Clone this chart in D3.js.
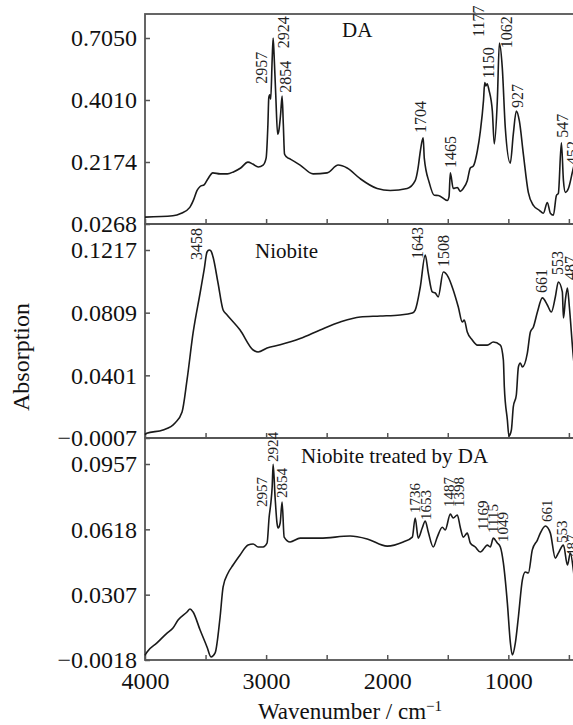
<!DOCTYPE html>
<html>
<head>
<meta charset="utf-8">
<script src="https://cdn.jsdelivr.net/npm/d3@7"></script>
<style>
  body { margin: 0; background: #fff; }
  svg { display: block; font-family: "Liberation Serif", "DejaVu Serif", serif; }
</style>
</head>
<body>
<div id="chart"></div>
<script>
'use strict';

// Spectra: [wavenumber, absorption].
const daSpectrum = [
  [4000,0.048],[3770,0.052],[3700,0.060],[3630,0.078],[3600,0.100],[3570,0.130],[3545,0.142],
  [3510,0.148],[3480,0.166],[3440,0.184],[3380,0.181],[3320,0.181],[3270,0.187],[3210,0.199],
  [3150,0.217],[3110,0.211],[3065,0.202],[3025,0.208],[3000,0.229],[2985,0.330],[2978,0.411],
  [2970,0.426],[2962,0.405],[2950,0.600],[2942,0.705],[2934,0.620],[2920,0.420],[2905,0.300],
  [2895,0.310],[2880,0.360],[2868,0.420],[2858,0.330],[2848,0.241],[2830,0.232],[2800,0.226],
  [2719,0.208],[2612,0.181],[2496,0.184],[2405,0.208],[2331,0.199],[2223,0.166],[2083,0.136],
  [1975,0.130],[1835,0.136],[1769,0.160],[1745,0.200],[1730,0.241],[1712,0.280],[1703,0.289],
  [1694,0.229],[1653,0.154],[1611,0.115],[1578,0.1145],[1504,0.099],[1490,0.110],[1479,0.184],
  [1455,0.136],[1421,0.139],[1397,0.127],[1372,0.136],[1339,0.160],[1314,0.199],[1289,0.205],
  [1256,0.250],[1231,0.309],[1205,0.400],[1195,0.486],[1185,0.470],[1175,0.481],[1160,0.450],
  [1132,0.368],[1116,0.271],[1091,0.398],[1074,0.680],[1050,0.560],[1025,0.318],[984,0.214],
  [959,0.300],[934,0.368],[909,0.339],[876,0.241],[835,0.124],[793,0.084],[744,0.069],[711,0.060],
  [678,0.093],[653,0.060],[628,0.054],[603,0.1145],[587,0.121],[562,0.274],[545,0.160],[529,0.124],
  [504,0.136],[463,0.199],[447,0.220],[420,0.170],[400,0.150]
];

const niobiteSpectrum = [
  [4000,0.0015],[3986,0.0024],[3851,0.0045],[3752,0.0091],[3694,0.0162],[3653,0.0371],
  [3603,0.0677],[3545,0.0937],[3512,0.1087],[3488,0.1204],[3470,0.1217],[3455,0.1210],
  [3438,0.1171],[3397,0.1002],[3355,0.0826],[3322,0.0794],[3215,0.0696],[3107,0.0566],
  [3066,0.0553],[2992,0.0579],[2884,0.0600],[2719,0.0640],[2554,0.0696],[2388,0.0748],
  [2223,0.0781],[2058,0.0787],[1893,0.0794],[1793,0.0807],[1769,0.0826],[1727,0.0976],
  [1686,0.1184],[1661,0.1067],[1628,0.0944],[1603,0.0937],[1579,0.0911],[1537,0.1074],
  [1496,0.1041],[1455,0.0957],[1413,0.0846],[1380,0.0748],[1364,0.0761],[1339,0.0683],
  [1298,0.0631],[1256,0.0598],[1174,0.0598],[1124,0.0618],[1066,0.0598],[1041,0.0501],
  [1033,0.0325],[1008,0.0110],[995,0.0005],[975,0.0045],[959,0.0195],[934,0.0273],[917,0.0455],
  [901,0.0481],[884,0.0455],[843,0.0546],[818,0.0683],[793,0.0716],[760,0.0813],[719,0.0905],
  [678,0.0859],[645,0.0813],[612,0.0911],[587,0.1009],[554,0.0944],[545,0.0774],[529,0.0892],
  [512,0.0970],[496,0.0846],[463,0.0520],[440,0.0370],[400,0.0300]
];

const treatedSpectrum = [
  [4000,0.0005],[3983,0.0022],[3901,0.0067],[3818,0.0116],[3769,0.0141],[3727,0.0181],
  [3653,0.0221],[3628,0.0236],[3603,0.0221],[3545,0.0131],[3488,0.0047],[3455,-0.0003],
  [3421,0.0017],[3380,0.0196],[3355,0.0344],[3314,0.0410],[3273,0.0448],[3215,0.0496],
  [3149,0.0543],[3107,0.0548],[3066,0.0534],[3025,0.0534],[2992,0.0553],[2975,0.0682],
  [2960,0.0760],[2950,0.0838],[2942,0.0955],[2926,0.0786],[2910,0.0650],[2901,0.0625],
  [2884,0.0651],[2868,0.0760],[2851,0.0581],[2802,0.0558],[2719,0.0576],[2554,0.0576],
  [2306,0.0586],[2165,0.0572],[2000,0.0538],[1868,0.0558],[1793,0.0581],[1769,0.0677],
  [1744,0.0576],[1711,0.0625],[1686,0.0661],[1661,0.0605],[1620,0.0534],[1587,0.0581],
  [1545,0.0629],[1521,0.0615],[1479,0.0697],[1455,0.0677],[1421,0.0692],[1397,0.0629],
  [1372,0.0581],[1339,0.0600],[1314,0.0553],[1273,0.0534],[1231,0.0510],[1198,0.0529],
  [1174,0.0543],[1149,0.0534],[1124,0.0576],[1091,0.0553],[1066,0.0534],[1041,0.0458],
  [1008,0.0265],[983,0.0067],[967,0.0007],[942,0.0067],[917,0.0196],[884,0.0377],[860,0.0415],
  [835,0.0410],[802,0.0520],[760,0.0567],[736,0.0600],[694,0.0635],[653,0.0600],[612,0.0481],
  [587,0.0505],[545,0.0543],[512,0.0448],[488,0.0505],[463,0.0424],[440,0.0300],[400,0.0250]
];

// Y tick labels of each panel (bottom to top).
const daTicks = [0.0268, 0.2174, 0.4010, 0.7050];
const niobiteTicks = [-0.0007, 0.0401, 0.0809, 0.1217];
const treatedTicks = [-0.0018, 0.0307, 0.0618, 0.0957];

// Peak labels: [text, wavenumber, absorption] where the rotated label starts.
const daPeaks = [
  ['2957',3041,0.481],['2924',2860,0.655],['2854',2843,0.436],['1704',1727,0.303],
  ['1465',1479,0.199],['1177',1248,0.710],['1150',1165,0.506],['1062',1016,0.655],
  ['927',926,0.377],['547',554,0.289],['452',471,0.208]
];
const niobitePeaks = [
  ['3458',3579,0.1152],['1643',1752,0.1158],['1508',1537,0.1106],
  ['661',727,0.0937],['553',595,0.1054],['487',488,0.1022]
];
const treatedPeaks = [
  ['2957',3033,0.0734],['2924',2942,0.0967],['2854',2868,0.0780],['1736',1769,0.0703],
  ['1653',1686,0.0666],['1487',1496,0.0734],['1398',1413,0.0734],['1169',1215,0.0615],
  ['1115',1132,0.0601],['1049',1050,0.0558],['661',686,0.0656],['553',562,0.0553],
  ['487',479,0.0486]
];

const panelTitles = ['DA', 'Niobite', 'Niobite treated by DA'];
const xTicks = [4000, 3500, 3000, 2500, 2000, 1500, 1000, 500];
const xDomain = [4000, 400];

const width = 573;
const height = 725;
const left = 145;
const right = 581;

const panels = [
  { top: 14,  bottom: 224, head: 24, data: daSpectrum,      ticks: daTicks,      peaks: daPeaks,      peakSize: 16,
    title: panelTitles[0], titleX: 342, titleY: 37 },
  { top: 224, bottom: 438, head: 26, data: niobiteSpectrum, ticks: niobiteTicks, peaks: niobitePeaks, peakSize: 16,
    title: panelTitles[1], titleX: 255, titleY: 258 },
  { top: 438, bottom: 660, head: 26, data: treatedSpectrum, ticks: treatedTicks, peaks: treatedPeaks, peakSize: 15,
    title: panelTitles[2], titleX: 301, titleY: 463 }
];

const svg = d3.select('#chart').append('svg')
  .attr('width', width)
  .attr('height', height);

svg.append('rect').attr('width', width).attr('height', height).attr('fill', '#fff');

const x = d3.scaleLinear().domain(xDomain).range([left, right]);

panels.forEach((p, i) => {
  // Ticks are evenly spaced even where their values are not.
  const tickTop = p.top + p.head;
  const y = d3.scaleLinear()
    .domain(p.ticks)
    .range(p.ticks.map((d, k) => p.bottom + (tickTop - p.bottom) * k / (p.ticks.length - 1)));

  const g = svg.append('g').attr('class', 'panel');

  g.append('rect')
    .attr('x', left)
    .attr('y', p.top)
    .attr('width', right - left)
    .attr('height', p.bottom - p.top)
    .attr('fill', 'none')
    .attr('stroke', '#555')
    .attr('stroke-width', 1.8);

  const yAxis = d3.axisLeft(y)
    .tickValues(p.ticks)
    .tickSizeInner(-5)
    .tickSizeOuter(0)
    .tickPadding(8)
    .tickFormat(d3.format('.4f'));

  g.append('g')
    .attr('transform', `translate(${left},0)`)
    .call(yAxis)
    .call(a => a.select('.domain').remove())
    .call(a => a.selectAll('line').attr('stroke', '#555').attr('stroke-width', 1.5))
    .call(a => a.selectAll('text')
      .attr('fill', '#111')
      .style('font-size', '24px')
      .style('font-family', '"Liberation Serif", serif'));

  const isLast = i === panels.length - 1;
  const xAxis = d3.axisBottom(x)
    .tickValues(xTicks)
    .tickSizeInner(-5)
    .tickSizeOuter(0)
    .tickPadding(12)
    .tickFormat(d => isLast && d % 1000 === 0 ? d : '');

  g.append('g')
    .attr('transform', `translate(0,${p.bottom})`)
    .call(xAxis)
    .call(a => a.select('.domain').remove())
    .call(a => a.selectAll('line').attr('stroke', '#555').attr('stroke-width', 1.5))
    .call(a => a.selectAll('text')
      .attr('fill', '#111')
      .style('font-size', '24px')
      .style('font-family', '"Liberation Serif", serif'));

  const line = d3.line()
    .curve(d3.curveMonotoneX)
    .x(d => x(d[0]))
    .y(d => y(d[1]));

  g.append('path')
    .datum(p.data)
    .attr('d', line)
    .attr('fill', 'none')
    .attr('stroke', '#1a1a1a')
    .attr('stroke-width', 1.6)
    .attr('stroke-linejoin', 'round');

  g.selectAll('.peak')
    .data(p.peaks)
    .enter()
    .append('text')
    .attr('class', 'peak')
    .attr('transform', d => `translate(${x(d[1])},${y(d[2])}) rotate(-90)`)
    .attr('dy', '0.35em')
    .attr('fill', '#222')
    .style('font-size', p.peakSize + 'px')
    .text(d => d[0]);

  g.append('text')
    .attr('x', p.titleX)
    .attr('y', p.titleY)
    .attr('fill', '#111')
    .style('font-size', '21px')
    .text(p.title);
});

svg.append('text')
  .attr('transform', 'translate(29,357) rotate(-90)')
  .attr('text-anchor', 'middle')
  .attr('fill', '#111')
  .style('font-size', '24px')
  .text('Absorption');

const xLabel = svg.append('text')
  .attr('x', 350)
  .attr('y', 719)
  .attr('text-anchor', 'middle')
  .attr('fill', '#111')
  .style('font-size', '23px');
xLabel.append('tspan').text('Wavenumber / cm');
xLabel.append('tspan')
  .attr('dy', '-0.55em')
  .style('font-size', '15px')
  .text('\u22121');
</script>
</body>
</html>
